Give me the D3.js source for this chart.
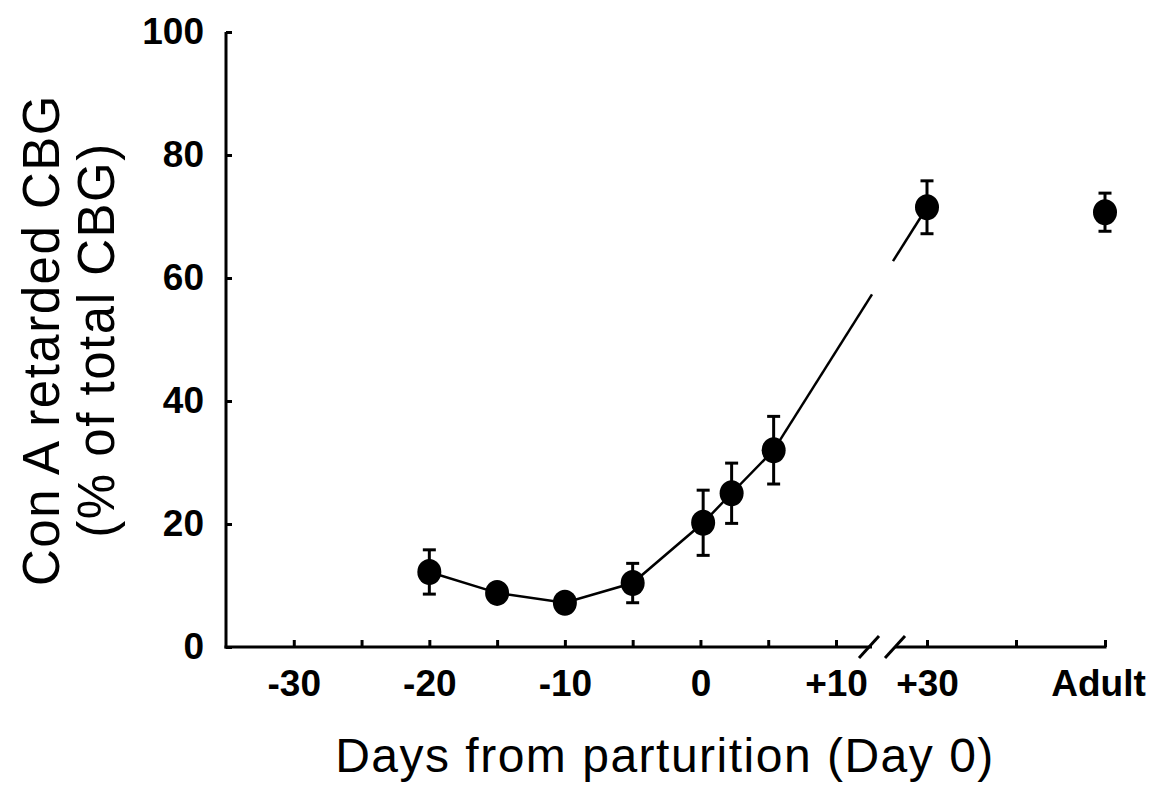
<!DOCTYPE html>
<html>
<head>
<meta charset="utf-8">
<script src="https://cdn.jsdelivr.net/npm/d3@7"></script>
<style>
  body { margin: 0; background: #fff; }
  svg { font-family: "Liberation Sans", Arial, Helvetica, sans-serif; }
  .tick text { font-size: 37px; font-weight: bold; fill: #000; }
  .tick line { stroke: #000; stroke-width: 3; }
  .title { font-size: 48px; fill: #000; letter-spacing: 1.5px; }
  .ytitle { font-size: 51px; fill: #000; letter-spacing: 1.5px; }
</style>
</head>
<body>
<div id="chart"></div>
<script>
// data
const days = [-20, -15, -10, -5, 0.2, 2.3, 5.4]
const meanLeft = [12.2, 8.8, 7.2, 10.4, 20.2, 25.0, 32.0]
const semLeft = [3.6, 1.4, 1.2, 3.2, 5.3, 4.9, 5.5]
const groupsRight = ['+30', 'Adult']
const meanRight = [71.5, 70.7]
const semRight = [4.3, 3.1]
const xTicksLeft = [-30, -25, -20, -15, -10, -5, 0, 5, 10]
const xTicksRight = ['+30', 'mid', 'Adult']
const yTicks = [0, 20, 40, 60, 80, 100]

const width = 1155
const height = 787
const y0 = 647 // x axis position
const breakA = 869 // first slash
const breakB = 895 // second slash

const svg = d3.select('#chart').append('svg')
  .attr('width', width)
  .attr('height', height)

const xL = d3.scaleLinear().domain([-35, 10]).range([226, 836])
const xR = d3.scalePoint().domain(xTicksRight).range([927, 1105])
const y = d3.scaleLinear().domain([0, 100]).range([y0, 32])

// y axis
const yAxis = svg.append('g')
  .attr('transform', `translate(${xL(-35)},0)`)
  .call(d3.axisLeft(y).tickValues(yTicks).tickSizeInner(-6).tickSizeOuter(0).tickPadding(22))
yAxis.select('.domain').remove()
yAxis.append('line')
  .attr('y1', y(100)).attr('y2', y0 + 1.5)
  .attr('stroke', '#000').attr('stroke-width', 3)

// x axis, left part
const fmt = d => d % 10 !== 0 ? '' : (d > 0 ? '+' + d : (d < 0 ? '-' + Math.abs(d) : '0'))
const xAxisL = svg.append('g')
  .attr('transform', `translate(0,${y0})`)
  .call(d3.axisBottom(xL).tickValues(xTicksLeft).tickFormat(fmt).tickSizeInner(-7).tickSizeOuter(0).tickPadding(23))
xAxisL.select('.domain').remove()

// x axis, right part
const xAxisR = svg.append('g')
  .attr('transform', `translate(0,${y0})`)
  .call(d3.axisBottom(xR).tickFormat(d => d === 'mid' ? '' : d).tickSizeInner(-7).tickSizeOuter(0).tickPadding(23))
xAxisR.select('.domain').remove()
xAxisR.selectAll('.tick text').attr('dx', d => d === 'Adult' ? -7 : 0)

svg.append('line')
  .attr('x1', xL(-35) - 1.5).attr('x2', breakA + 3)
  .attr('y1', y0).attr('y2', y0)
  .attr('stroke', '#000').attr('stroke-width', 3)
svg.append('line')
  .attr('x1', breakB).attr('x2', xR('Adult') + 1.5)
  .attr('y1', y0).attr('y2', y0)
  .attr('stroke', '#000').attr('stroke-width', 3)

// break slashes
svg.selectAll('.slash')
  .data([breakA, breakB])
  .enter().append('line')
  .attr('class', 'slash')
  .attr('x1', d => d - 10).attr('y1', y0 + 11)
  .attr('x2', d => d + 10).attr('y2', y0 - 11)
  .attr('stroke', '#000').attr('stroke-width', 3)

// points in pixel space
const pts = days.map((d, i) => ({ x: xL(d), m: meanLeft[i], e: semLeft[i] }))
  .concat(groupsRight.map((g, i) => ({ x: xR(g), m: meanRight[i], e: semRight[i] })))

// connecting line (left part)
const line = d3.line().x(d => d.x).y(d => y(d.m))
svg.append('path')
  .attr('d', line(pts.slice(0, days.length)))
  .attr('fill', 'none').attr('stroke', '#000').attr('stroke-width', 2.5)

// segment to +30 with a gap over the axis break
const p0 = pts[days.length - 1]
const p1 = pts[days.length]
const lerp = gx => ({ x: gx, m: p0.m + (p1.m - p0.m) * (gx - p0.x) / (p1.x - p0.x) })
svg.append('path')
  .attr('d', line([p0, lerp(breakA + 3)]))
  .attr('fill', 'none').attr('stroke', '#000').attr('stroke-width', 2.5)
svg.append('path')
  .attr('d', line([lerp(breakB - 2), p1]))
  .attr('fill', 'none').attr('stroke', '#000').attr('stroke-width', 2.5)

// error bars
const eb = svg.append('g').attr('stroke', '#000').attr('stroke-width', 3)
eb.selectAll('.stem').data(pts).enter().append('line')
  .attr('x1', d => d.x).attr('x2', d => d.x)
  .attr('y1', d => y(d.m + d.e)).attr('y2', d => y(d.m - d.e))
eb.selectAll('.capt').data(pts).enter().append('line')
  .attr('x1', d => d.x - 6.5).attr('x2', d => d.x + 6.5)
  .attr('y1', d => y(d.m + d.e)).attr('y2', d => y(d.m + d.e))
eb.selectAll('.capb').data(pts).enter().append('line')
  .attr('x1', d => d.x - 6.5).attr('x2', d => d.x + 6.5)
  .attr('y1', d => y(d.m - d.e)).attr('y2', d => y(d.m - d.e))

// markers
svg.selectAll('.dot').data(pts).enter().append('ellipse')
  .attr('cx', d => d.x).attr('cy', d => y(d.m))
  .attr('rx', 12).attr('ry', 13)
  .attr('fill', '#000')

// titles
svg.append('text')
  .attr('class', 'title')
  .attr('x', 665).attr('y', 772)
  .attr('text-anchor', 'middle')
  .text('Days from parturition (Day 0)')

const yt = svg.append('g').attr('transform', 'translate(0,340) rotate(-90)')
yt.append('text')
  .attr('class', 'ytitle')
  .attr('x', 0).attr('y', 59)
  .attr('text-anchor', 'middle')
  .text('Con A retarded CBG')
yt.append('text')
  .attr('class', 'ytitle')
  .attr('x', 0).attr('y', 114)
  .attr('text-anchor', 'middle')
  .text('(% of total CBG)')
</script>
</body>
</html>
